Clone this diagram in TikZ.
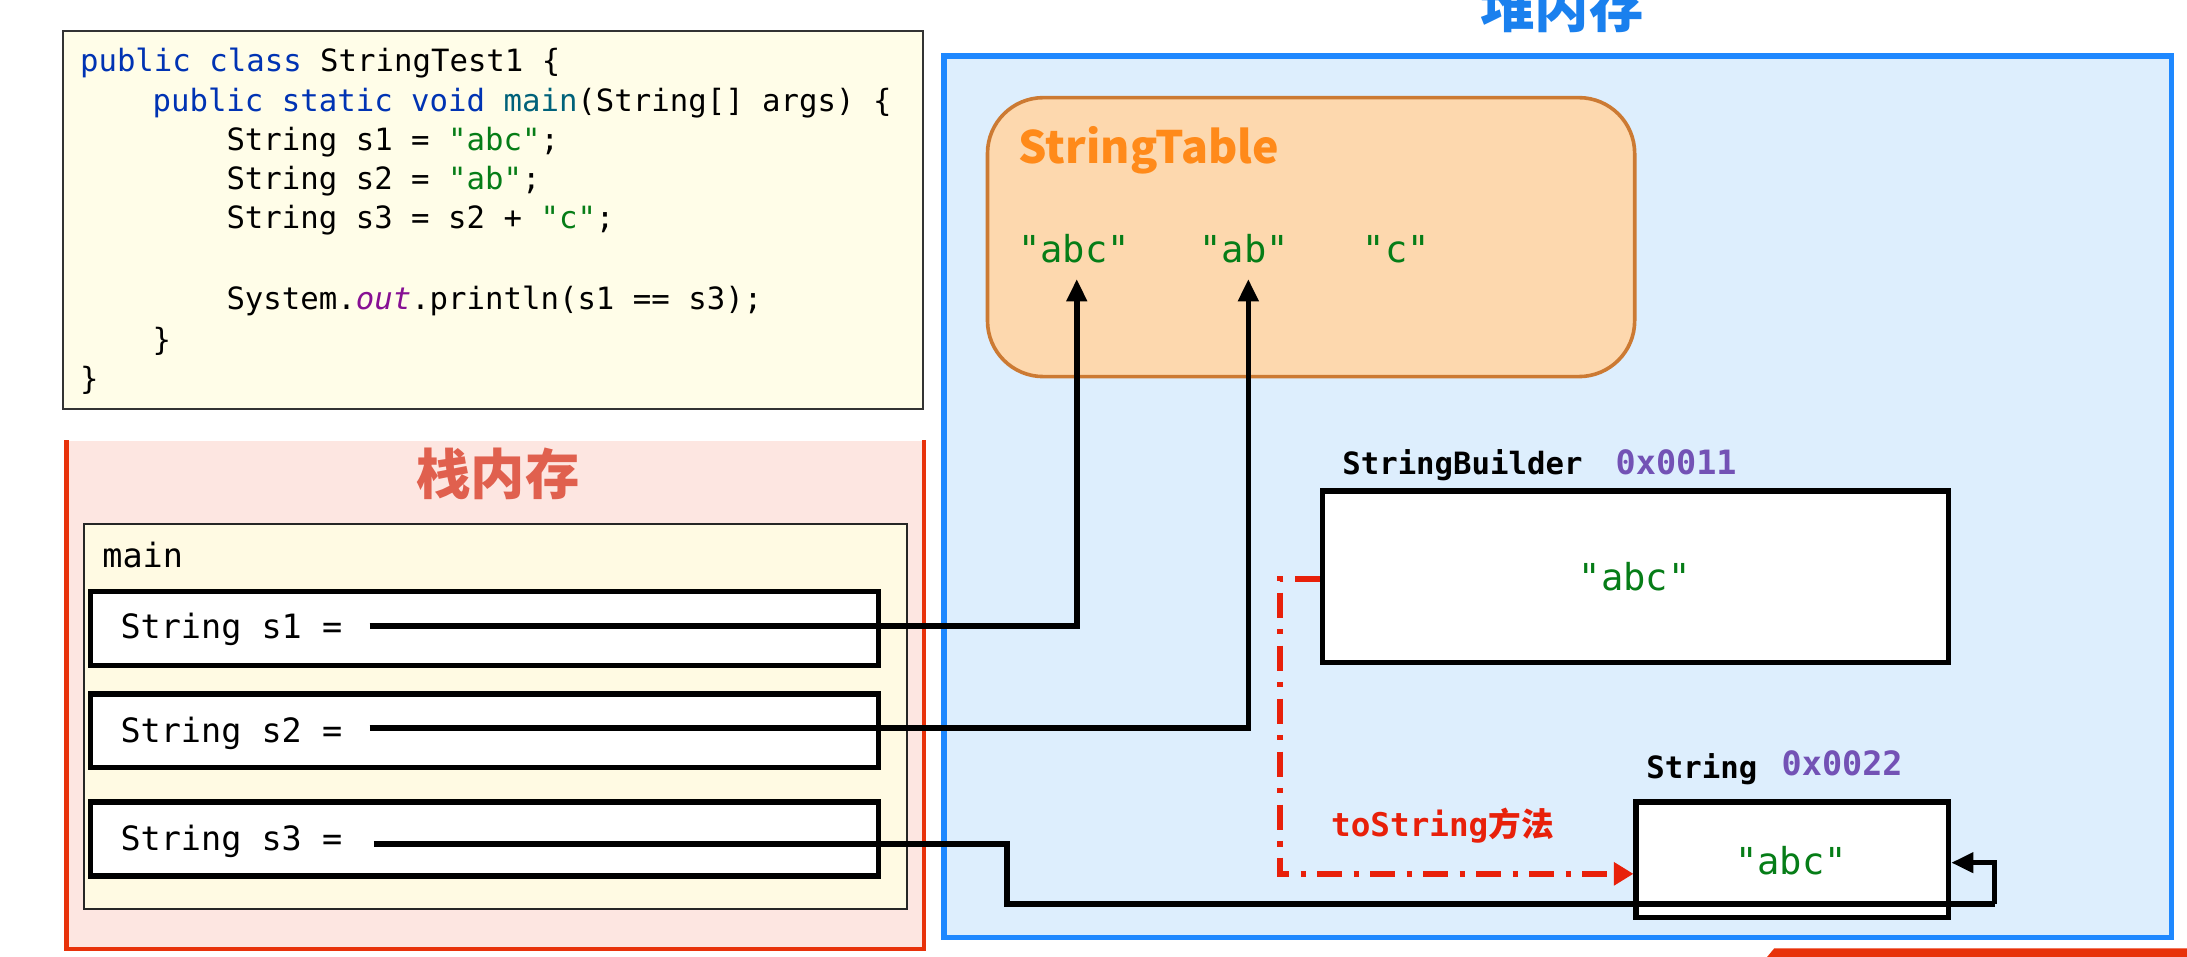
\documentclass[tikz,border=0pt]{standalone}
\usepackage{fontspec}
\setmonofont{DejaVu Sans Mono}
\newfontfamily\cjk{Noto Sans CJK SC}
\usetikzlibrary{arrows.meta,calc}
\definecolor{heapBorder}{HTML}{1E88FF}
\definecolor{heapFill}{HTML}{DDEEFD}
\definecolor{heapTitle}{HTML}{1A80EE}
\definecolor{stackBorder}{HTML}{E8320A}
\definecolor{stackFill}{HTML}{FDE6E1}
\definecolor{stackTitle}{HTML}{E0604E}
\definecolor{codeFill}{HTML}{FFFDE8}
\definecolor{mainFill}{HTML}{FFFAE3}
\definecolor{tableFill}{HTML}{FDD8AE}
\definecolor{tableBorder}{HTML}{CC7A33}
\definecolor{tableTitle}{HTML}{FF8A1A}
\definecolor{kw}{HTML}{0033B3}
\definecolor{fn}{HTML}{00627A}
\definecolor{fld}{HTML}{871094}
\definecolor{strc}{HTML}{067D17}
\definecolor{addr}{HTML}{7352B5}
\definecolor{redArrow}{HTML}{E8200A}
\begin{document}
\begin{tikzpicture}[x=0.5pt,y=-0.5pt,
  codeline/.style={font=\ttfamily\fontsize{11}{13}\selectfont, anchor=base west, inner sep=0pt},
  slot/.style={draw=black, line width=1.9pt, fill=white, minimum width=282.5pt, minimum height=26.5pt, inner sep=0pt},
  slottext/.style={font=\ttfamily\fontsize{12}{14}\selectfont, anchor=base west, inner sep=0pt},
  strlit/.style={font=\ttfamily\fontsize{13.3}{15}\selectfont, text=strc, anchor=base, inner sep=0pt},
  objlabel/.style={font=\ttfamily\bfseries\fontsize{11}{13}\selectfont, anchor=base west, inner sep=0pt},
  addrlabel/.style={font=\ttfamily\bfseries\fontsize{12}{14}\selectfont, text=addr, anchor=base west, inner sep=0pt},
  objbox/.style={draw=black, line width=1.9pt, fill=white, inner sep=0pt},
  ptr/.style={line width=2pt, -{Triangle[length=8pt,width=7pt]}},
  conv/.style={draw=redArrow, line width=2.2pt, dash pattern=on 9pt off 4pt on 2pt off 4pt, -{Triangle[length=7pt,width=8pt]}}
]
\useasboundingbox[fill=white] (0,0) rectangle (1568,686);

% ---------- code box ----------
\node[draw=black!80, line width=0.7pt, fill=codeFill, minimum width=308.5pt, minimum height=135.5pt, inner sep=0pt] (code) at (353.5,157.5) {};
\node[codeline] (c1) at (57,51) {\textcolor{kw}{public class} StringTest1 \{};
\node[codeline] (c2) at (109,80) {\textcolor{kw}{public static void} \textcolor{fn}{main}(String[] args) \{};
\node[codeline] (c3) at (162,108) {String s1 = \textcolor{strc}{"abc"};};
\node[codeline] (c4) at (162,136) {String s2 = \textcolor{strc}{"ab"};};
\node[codeline] (c5) at (162,164) {String s3 = s2 + \textcolor{strc}{"c"};};
\node[codeline] (c6) at (162,222) {System.\textcolor{fld}{\itshape out}.println(s1 == s3);};
\node[codeline] (c7) at (109,251) {\}};
\node[codeline] (c8) at (57,279) {\}};

% ---------- stack ----------
\node[fill=stackFill, minimum width=307pt, minimum height=182pt, inner sep=0pt] (stack) at (355,498) {};
\draw[stackBorder, line width=1.6pt] (stack.north west) -- (stack.south west) -- (stack.south east) -- (stack.north east);
\node[font=\cjk\bfseries\fontsize{19.5}{22}\selectfont, text=stackTitle] (stackT) at (357,340) {栈内存};
\node[draw=black!85, line width=0.7pt, fill=mainFill, minimum width=295pt, minimum height=138pt, inner sep=0pt] (mainF) at (355,514) {};
\node[slottext] (mainT) at (73,407) {main};
\node[slot] (s1) at (347.5,450.5) {};
\node[slot] (s2) at (347.5,524) {};
\node[slot] (s3) at (347.5,601.5) {};
\node[slottext] (s1t) at (86,458) {String s1 =};
\node[slottext] (s2t) at (86,532) {String s2 =};
\node[slottext] (s3t) at (86,610) {String s3 =};

% ---------- heap ----------
\node[draw=heapBorder, line width=2pt, fill=heapFill, minimum width=440pt, minimum height=316pt, inner sep=0pt] (heap) at (1117,356) {};
\node[font=\cjk\bfseries\fontsize{19.5}{22}\selectfont, text=heapTitle] (heapT) at (1120,5) {堆内存};

\node[draw=tableBorder, line width=1.3pt, fill=tableFill, rounded corners=20pt, minimum width=232pt, minimum height=100pt, inner sep=0pt] (table) at (940,170) {};
\node[font=\cjk\bfseries\fontsize{16}{18}\selectfont, text=tableTitle, anchor=base west, inner sep=0pt] (tableT) at (730,117) {StringTable};
\node[strlit] (abc1) at (770,188) {"abc"};
\node[strlit] (ab) at (892,188) {"ab"};
\node[strlit] (c) at (1001,188) {"c"};

\node[objbox, minimum width=224.5pt, minimum height=61.5pt] (sb) at (1172.5,413.5) {};
\node[objlabel] (sbT) at (962,340) {StringBuilder};
\node[addrlabel] (sbA) at (1158,340) {0x0011};
\node[strlit] (sbV) at (1172,423) {"abc"};

\node[objbox, minimum width=112pt, minimum height=41.5pt] (str) at (1285,616.5) {};
\node[objlabel] (strT) at (1180,558) {String};
\node[addrlabel] (strA) at (1277,556) {0x0022};
\node[strlit] (strV) at (1284,627) {"abc"};

% ---------- connectors ----------
\coordinate (p1) at (265,449);
\coordinate (p2) at (265,522);
\coordinate (p3) at (268,605);
\coordinate (j1) at (722,648);
\coordinate (j2) at (1430,648);

\draw[ptr] (p1) -| ($(abc1.base)+(2,12)$);
\draw[ptr] (p2) -| ($(ab.base)+(3,12)$);
\draw[line width=2pt] (p3) -| (j1) -- (j2);
\draw[ptr] (j2) |- ([yshift=-1pt]str.east);

\coordinate (r1) at (918,415);
\draw[conv] (sb.west |- r1) -- (r1) |- ([yshift=-5pt]str.west);
\node[font=\ttfamily\bfseries\fontsize{11.7}{13}\selectfont, text=redArrow, anchor=base west, inner sep=0pt] (ts) at (954,600) {toString{\cjk\bfseries 方法}};

% ---------- bottom-right strip ----------
\fill[stackBorder] (1272,680) -- (1568,680) -- (1568,686) -- (1267,686) -- cycle;
\end{tikzpicture}
\end{document}
